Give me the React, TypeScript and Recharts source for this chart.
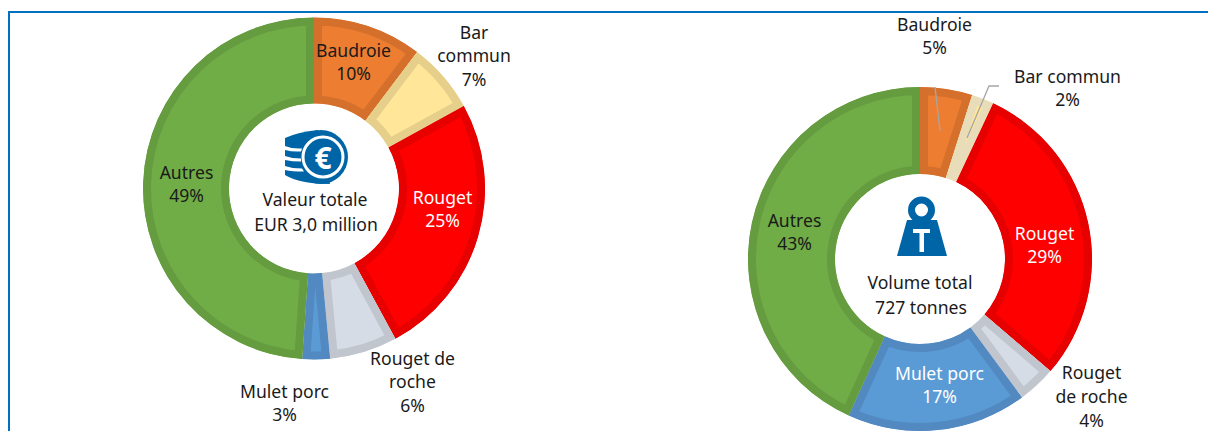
import React from 'react';
import { PieChart, Pie, Cell, Sector } from 'recharts';

const valueNames = ['Baudroie', 'Bar commun', 'Rouget', 'Rouget de roche', 'Mulet porc', 'Autres'];
const valueShares = [10.3, 6.7, 25.1, 6.4, 2.6, 48.9];
const volumeNames = ['Baudroie', 'Bar commun', 'Rouget', 'Rouget de roche', 'Mulet porc', 'Autres'];
const volumeShares = [4.9, 2.1, 29.3, 3.6, 16.9, 43.2];
const valueLabelLines = [['Baudroie'], ['Bar', 'commun'], ['Rouget'], ['Rouget de', 'roche'], ['Mulet porc'], ['Autres']];
const volumeLabelLines = [['Baudroie'], ['Bar commun'], ['Rouget'], ['Rouget', 'de roche'], ['Mulet porc'], ['Autres']];

const fills = ['#ED7D31', '#FFE699', '#FF0000', '#D6DCE5', '#5B9BD5', '#70AD47'];
const valueStrokes = ['#D5702C', '#E6CF8A', '#E60000', '#C1C6CE', '#5289C0', '#659C40'];
const volumeStrokes = ['#D5702C', '#E9DDB9', '#E60000', '#C1C6CE', '#5289C0', '#659C40'];
const labelColors = ['#1a1a1a', '#1a1a1a', '#ffffff', '#1a1a1a', '#1a1a1a', '#1a1a1a'];
const volumeLabelColors = ['#1a1a1a', '#1a1a1a', '#ffffff', '#1a1a1a', '#ffffff', '#1a1a1a'];

// label anchor: centre x, y of the first line's middle
const valueLabelPos = [[353.5, 49.5], [474, 31.5], [442.5, 196.5], [412.5, 357.5], [284.5, 390.5], [186.5, 171.5]];
const volumeLabelPos = [[934.5, 23.5], [1067.5, 75.5], [1044.5, 232.5], [1091.5, 372], [939.5, 372.5], [794.5, 219.5]];

const FONT = '"Noto Sans", sans-serif';
const FS = 17.6;
const LH = 23.8;

const toRows = (names: string[], shares: number[]) => names.map((name, i) => ({ name, share: shares[i] }));
const valueRows = toRows(valueNames, valueShares);
const volumeRows = toRows(volumeNames, volumeShares);

const makeShape = (strokes: string[]) => (props: any) => {
  const { cx, cy, innerRadius, outerRadius, startAngle, endAngle, fill } = props;
  const id = `clip-${Math.round(cx)}-${Math.round(startAngle * 10)}`;
  const geo = { cx, cy, innerRadius, outerRadius, startAngle, endAngle };
  const stroke = strokes[fills.indexOf(fill)];
  return (
    <g>
      <clipPath id={id}>
        <Sector {...geo} />
      </clipPath>
      <Sector {...geo} fill={fill} stroke={stroke} strokeWidth={16} strokeLinejoin="miter" strokeMiterlimit={20} clipPath={`url(#${id})`} />
    </g>
  );
};

const leaderColor = '#A6A6A6';
const volumeLeaders: Record<number, string> = {
  0: '935,87 940,131',
  1: '999,86 989,86 967,138',
};
const noLeaders: Record<number, string> = {};

const makeLabel = (lines: string[][], pos: number[][], colors: string[], shares: number[], leaders: Record<number, string>) => (p: any) => {
  const i = p.index as number;
  const [x, y] = pos[i];
  const rows = [...lines[i], `${Math.round(shares[i])}%`];
  return (
    <g key={i}>
      {leaders[i] ? <polyline points={leaders[i]} fill="none" stroke={leaderColor} strokeWidth={1.3} /> : null}
      <text x={x} y={y} textAnchor="middle" fontFamily={FONT} fontSize={FS} fill={colors[i]}>
        {rows.map((r, k) => (
          <tspan key={k} x={x} y={y + k * LH} dominantBaseline="central">{r}</tspan>
        ))}
      </text>
    </g>
  );
};

const CenterText = ({ x, y, rows }: { x: number; y: number; rows: string[] }) => (
  <text textAnchor="middle" fontFamily={FONT} fontSize={FS} fill="#1a1a1a">
    {rows.map((r, k) => (
      <tspan key={k} x={x + k * 1} y={y + k * 25} dominantBaseline="central">{r}</tspan>
    ))}
  </text>
);

const BLUE = '#0065A6';

const CoinIcon = () => (
  <g>
    <path d="M285 138 Q298 132 318 130 L330 184 Q300 184 285 175 Z" fill={BLUE} />
    <circle cx={321} cy={157} r={27} fill={BLUE} />
    <path d="M285 146 Q292 149 302 148.5 L301 151.5 Q292 152 285 150 Z" fill="#fff" />
    <path d="M285 156 Q292 158.5 301 158.5 L301 161.5 Q292 161.5 285 160 Z" fill="#fff" />
    <path d="M285 166 Q292 168.5 302 168.5 L304 171.5 Q292 171.5 285 170 Z" fill="#fff" />
    <circle cx={323} cy={157} r={20} fill={BLUE} stroke="#fff" strokeWidth={3} />
    <text x={323} y={157} textAnchor="middle" dominantBaseline="central" fontFamily={FONT} fontWeight={700} fontSize={30} fill="#fff">€</text>
  </g>
);

const WeightIcon = () => (
  <g>
    <circle cx={921.5} cy={210} r={10} fill="none" stroke={BLUE} strokeWidth={7} />
    <path d="M907 220 L937 220 L947 256 L897 256 Z" fill={BLUE} />
    <path d="M913 229 L930 229 L930 233 L924 233 L924 252 L919.5 252 L919.5 233 L913 233 Z" fill="#fff" />
  </g>
);

export default function App() {
  return (
    <div style={{ position: 'absolute', left: 0, top: 0, width: 1208, height: 431, background: '#fff' }}>
      <PieChart width={1208} height={431} margin={{ top: 0, right: 0, bottom: 0, left: 0 }}>
        <rect x={8} y={11} width={1200} height={2} fill="#0070C0" />
        <rect x={8} y={11} width={2} height={420} fill="#0070C0" />
        <Pie data={valueRows} dataKey="share" nameKey="name" cx={314} cy={188.5} innerRadius={85} outerRadius={171} startAngle={90} endAngle={-270} stroke="none" isAnimationActive={false} shape={makeShape(valueStrokes)} labelLine={false} label={makeLabel(valueLabelLines, valueLabelPos, labelColors, valueShares, noLeaders)}>
          {valueRows.map((r, i) => <Cell key={r.name} fill={fills[i]} />)}
        </Pie>
        <Pie data={volumeRows} dataKey="share" nameKey="name" cx={920} cy={259} innerRadius={85} outerRadius={172} startAngle={90} endAngle={-270} stroke="none" isAnimationActive={false} shape={makeShape(volumeStrokes)} labelLine={false} label={makeLabel(volumeLabelLines, volumeLabelPos, volumeLabelColors, volumeShares, volumeLeaders)}>
          {volumeRows.map((r, i) => <Cell key={r.name} fill={fills[i]} />)}
        </Pie>
        <CoinIcon />
        <WeightIcon />
        <CenterText x={315} y={199} rows={['Valeur totale', 'EUR 3,0 million']} />
        <CenterText x={920} y={282} rows={['Volume total', '727 tonnes']} />
      </PieChart>
    </div>
  );
}
